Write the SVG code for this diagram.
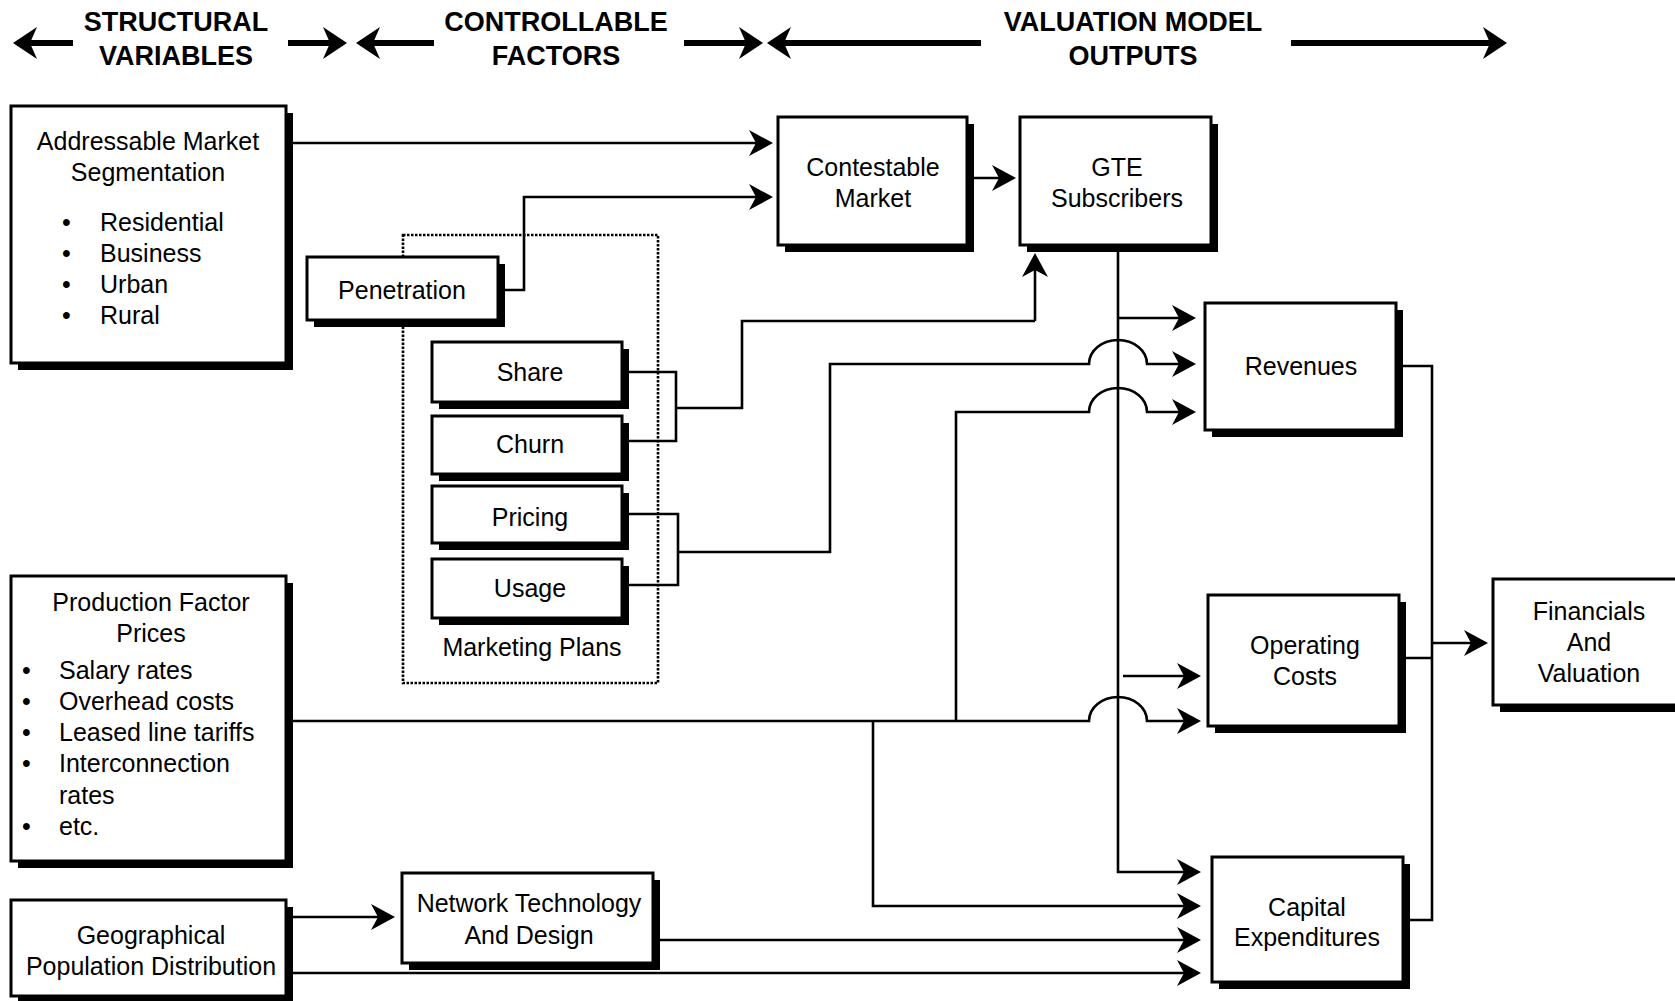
<svg xmlns="http://www.w3.org/2000/svg" width="1675" height="1001" viewBox="0 0 1675 1001">
<style>
text{font-family:"Liberation Sans",Arial,sans-serif;fill:#000}
.h{font-size:27px;font-weight:bold;text-anchor:middle}
.t{font-size:25px;text-anchor:middle}
.l{font-size:25px}
.box{fill:#fff;stroke:#000;stroke-width:3}
.sh{fill:#000}
.c{fill:none;stroke:#000;stroke-width:2.6}
.ha{fill:none;stroke:#000;stroke-width:6}
</style>
<defs>
<marker id="a" markerUnits="userSpaceOnUse" viewBox="-26 -16 30 32" refX="0" refY="0" markerWidth="30" markerHeight="32" orient="auto">
<path d="M3,0 L-21,-13 L-14,0 L-21,13 Z" fill="#000"/>
</marker>
<marker id="ah" markerUnits="userSpaceOnUse" viewBox="-26 -18 32 36" refX="0" refY="0" markerWidth="32" markerHeight="36" orient="auto">
<path d="M4,0 L-20,-16 L-13,0 L-20,16 Z" fill="#000"/>
</marker>
</defs>

<g id="header">
<text class="h" x="176" y="31">STRUCTURAL</text>
<text class="h" x="176" y="65">VARIABLES</text>
<text class="h" x="556" y="31">CONTROLLABLE</text>
<text class="h" x="556" y="65">FACTORS</text>
<text class="h" x="1133" y="31">VALUATION MODEL</text>
<text class="h" x="1133" y="65">OUTPUTS</text>
<path class="ha" d="M73,43 H17" marker-end="url(#ah)"/>
<path class="ha" d="M288,43 H343" marker-end="url(#ah)"/>
<path class="ha" d="M434,43 H360" marker-end="url(#ah)"/>
<path class="ha" d="M684,43 H759" marker-end="url(#ah)"/>
<path class="ha" d="M981,43 H771" marker-end="url(#ah)"/>
<path class="ha" d="M1291,43 H1503" marker-end="url(#ah)"/>
</g>

<g id="marketing-plans">
<rect x="403" y="235" width="255" height="448" fill="none" stroke="#000" stroke-width="2.6" stroke-dasharray="2.5 1.5"/>
<text class="t" x="532" y="656">Marketing Plans</text>
</g>

<g id="addressable-market">
<rect class="sh" x="18" y="113" width="275" height="257"/>
<rect class="box" x="11" y="106" width="275" height="257"/>
<text class="t" x="148" y="150">Addressable Market</text>
<text class="t" x="148" y="181">Segmentation</text>
<text class="l" x="62" y="231">•</text><text class="l" x="100" y="231">Residential</text>
<text class="l" x="62" y="262">•</text><text class="l" x="100" y="262">Business</text>
<text class="l" x="62" y="293">•</text><text class="l" x="100" y="293">Urban</text>
<text class="l" x="62" y="324">•</text><text class="l" x="100" y="324">Rural</text>
</g>

<g id="production-factor-prices">
<rect class="sh" x="18" y="583" width="275" height="285"/>
<rect class="box" x="11" y="576" width="275" height="285"/>
<text class="t" x="151" y="611">Production Factor</text>
<text class="t" x="151" y="642">Prices</text>
<text class="l" x="22" y="679">•</text><text class="l" x="59" y="679">Salary rates</text>
<text class="l" x="22" y="710">•</text><text class="l" x="59" y="710">Overhead costs</text>
<text class="l" x="22" y="741">•</text><text class="l" x="59" y="741">Leased line tariffs</text>
<text class="l" x="22" y="772">•</text><text class="l" x="59" y="772">Interconnection</text>
<text class="l" x="59" y="804">rates</text>
<text class="l" x="22" y="835">•</text><text class="l" x="59" y="835">etc.</text>
</g>

<g id="geographical-population">
<rect class="sh" x="18" y="907" width="275" height="96"/>
<rect class="box" x="11" y="900" width="275" height="96"/>
<text class="t" x="151" y="944">Geographical</text>
<text class="t" x="151" y="975">Population Distribution</text>
</g>

<g id="penetration">
<rect class="sh" x="314" y="264" width="191" height="63"/>
<rect class="box" x="307" y="257" width="191" height="63"/>
<text class="t" x="402" y="299">Penetration</text>
</g>

<g id="share">
<rect class="sh" x="439" y="349" width="190" height="60"/>
<rect class="box" x="432" y="342" width="190" height="60"/>
<text class="t" x="530" y="381">Share</text>
</g>
<g id="churn">
<rect class="sh" x="439" y="423" width="190" height="58"/>
<rect class="box" x="432" y="416" width="190" height="58"/>
<text class="t" x="530" y="453">Churn</text>
</g>
<g id="pricing">
<rect class="sh" x="439" y="493" width="190" height="57"/>
<rect class="box" x="432" y="486" width="190" height="57"/>
<text class="t" x="530" y="526">Pricing</text>
</g>
<g id="usage">
<rect class="sh" x="439" y="566" width="190" height="59"/>
<rect class="box" x="432" y="559" width="190" height="59"/>
<text class="t" x="530" y="597">Usage</text>
</g>

<g id="network-technology">
<rect class="sh" x="409" y="880" width="251" height="90"/>
<rect class="box" x="402" y="873" width="251" height="90"/>
<text class="t" x="529" y="912">Network Technology</text>
<text class="t" x="529" y="944">And Design</text>
</g>

<g id="contestable-market">
<rect class="sh" x="785" y="124" width="189" height="128"/>
<rect class="box" x="778" y="117" width="189" height="128"/>
<text class="t" x="873" y="176">Contestable</text>
<text class="t" x="873" y="207">Market</text>
</g>

<g id="gte-subscribers">
<rect class="sh" x="1027" y="124" width="191" height="128"/>
<rect class="box" x="1020" y="117" width="191" height="128"/>
<text class="t" x="1117" y="176">GTE</text>
<text class="t" x="1117" y="207">Subscribers</text>
</g>

<g id="revenues">
<rect class="sh" x="1212" y="310" width="191" height="127"/>
<rect class="box" x="1205" y="303" width="191" height="127"/>
<text class="t" x="1301" y="375">Revenues</text>
</g>

<g id="operating-costs">
<rect class="sh" x="1215" y="602" width="191" height="131"/>
<rect class="box" x="1208" y="595" width="191" height="131"/>
<text class="t" x="1305" y="654">Operating</text>
<text class="t" x="1305" y="685">Costs</text>
</g>

<g id="capital-expenditures">
<rect class="sh" x="1219" y="864" width="191" height="125"/>
<rect class="box" x="1212" y="857" width="191" height="125"/>
<text class="t" x="1307" y="916">Capital</text>
<text class="t" x="1307" y="946">Expenditures</text>
</g>

<g id="financials-valuation">
<rect class="sh" x="1500" y="586" width="190" height="126"/>
<rect class="box" x="1493" y="579" width="190" height="126"/>
<text class="t" x="1589" y="620">Financials</text>
<text class="t" x="1589" y="651">And</text>
<text class="t" x="1589" y="682">Valuation</text>
</g>

<g id="connectors">
<path class="c" d="M293,143 H770" marker-end="url(#a)"/>
<path class="c" d="M505,290 H524 V197 H770" marker-end="url(#a)"/>
<path class="c" d="M974,178 H1013" marker-end="url(#a)"/>
<path class="c" d="M629,372 H676 V441 H629 M676,408 H742 V321 H1035"/>
<path class="c" d="M1035,321 V256" marker-end="url(#a)"/>
<path class="c" d="M629,514 H678 V585 H629"/>
<path class="c" d="M678,552 H830 V364 H1089 A29,24 0 0 1 1147,364 H1193" marker-end="url(#a)"/>
<path class="c" d="M1118,252 V872 H1198" marker-end="url(#a)"/>
<path class="c" d="M1118,318 H1193" marker-end="url(#a)"/>
<path class="c" d="M956,721 V412 H1089 A29,24 0 0 1 1147,412 H1193" marker-end="url(#a)"/>
<path class="c" d="M293,721 H1089 A29,24 0 0 1 1147,721 H1198" marker-end="url(#a)"/>
<path class="c" d="M873,721 V906 H1198" marker-end="url(#a)"/>
<path class="c" d="M1123,676 H1198" marker-end="url(#a)"/>
<path class="c" d="M660,940 H1198" marker-end="url(#a)"/>
<path class="c" d="M293,973 H1198" marker-end="url(#a)"/>
<path class="c" d="M293,917 H392" marker-end="url(#a)"/>
<path class="c" d="M1403,366 H1432 V920 H1410 M1406,658 H1432"/>
<path class="c" d="M1432,643 H1485" marker-end="url(#a)"/>
</g>
</svg>
